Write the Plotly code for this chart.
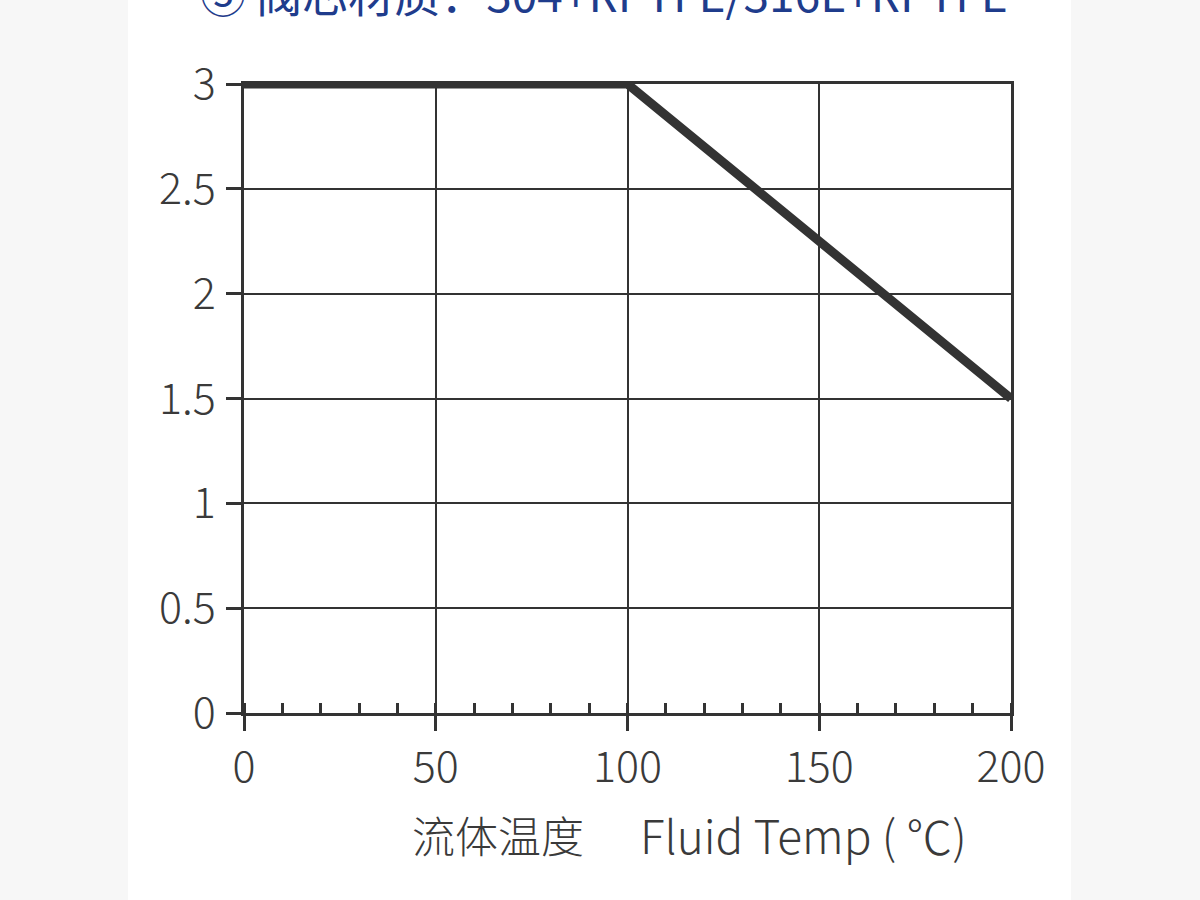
import plotly.graph_objects as go

# 数据：流体温度 vs 压力
temp = [0, 100, 200]
pressure = [3, 3, 1.5]

x_ticks = [0, 50, 100, 150, 200]
y_ticks = [0, 0.5, 1, 1.5, 2, 2.5, 3]
y_labels = ["0", "0.5", "1", "1.5", "2", "2.5", "3"]

title_text = "⑤ 阀芯材质：304+RPTFE/316L+RPTFE"
xlabel_cn = "流体温度"
xlabel_en = "Fluid Temp ( ℃)"

W, H = 1200, 900
ink = "#333333"
font_name = "Noto Sans CJK SC, Noto Sans, sans-serif"

fig = go.Figure()

fig.add_trace(go.Scatter(
    x=temp,
    y=pressure,
    mode="lines",
    line=dict(color=ink, width=9),
    cliponaxis=False,
    showlegend=False,
    hoverinfo="skip",
))

axis_common = dict(
    showline=True,
    linecolor=ink,
    linewidth=2.5,
    mirror=True,
    showgrid=True,
    gridcolor=ink,
    gridwidth=2,
    zeroline=False,
    ticks="outside",
    ticklen=15,
    tickwidth=2.5,
    tickcolor=ink,
    tickfont=dict(family=font_name, size=43, color="#3a3a3a", weight=300),
    automargin=False,
    fixedrange=True,
)

fig.update_xaxes(
    **axis_common,
    range=[0, 200],
    tickvals=x_ticks,
    ticktext=[str(v) for v in x_ticks],
    ticklabelstandoff=0,
    domain=[244 / W, 1011 / W],
    minor=dict(dtick=10, ticks="inside", ticklen=10, tickwidth=2.5,
               tickcolor=ink, showgrid=False),
)
fig.update_yaxes(
    **axis_common,
    range=[0, 3],
    tickvals=y_ticks,
    ticktext=y_labels,
    ticklabelstandoff=2,
    domain=[(H - 713) / H, (H - 84) / H],
)

# 两侧灰色底
fig.add_shape(type="rect", xref="paper", yref="paper",
              x0=128 / W, x1=1071 / W, y0=0, y1=1,
              fillcolor="white", line=dict(width=0), layer="below")

# 顶部标题（被截断）
fig.add_annotation(text=title_text, xref="paper", yref="paper",
                   x=604 / W, y=(H + 8) / H, xanchor="center", yanchor="middle",
                   showarrow=False,
                   font=dict(family=font_name, size=46, color="#1f3c8c"))

# x 轴标题
fig.add_annotation(text=xlabel_cn, xref="paper", yref="paper",
                   x=498 / W, y=(H - 834) / H, xanchor="center", yanchor="middle",
                   showarrow=False,
                   font=dict(family=font_name, size=43, color="#3a3a3a", weight=300))
fig.add_annotation(text=xlabel_en, xref="paper", yref="paper",
                   x=803 / W, y=(H - 834) / H, xanchor="center", yanchor="middle",
                   showarrow=False,
                   font=dict(family=font_name, size=46, color="#3a3a3a", weight=300))

fig.update_layout(
    width=W,
    height=H,
    margin=dict(l=0, r=0, t=0, b=0),
    paper_bgcolor="#f7f7f7",
    plot_bgcolor="white",
    showlegend=False,
)

fig.write_html("out.html", config={"displayModeBar": False},
               post_script="document.body.style.margin='0';")
